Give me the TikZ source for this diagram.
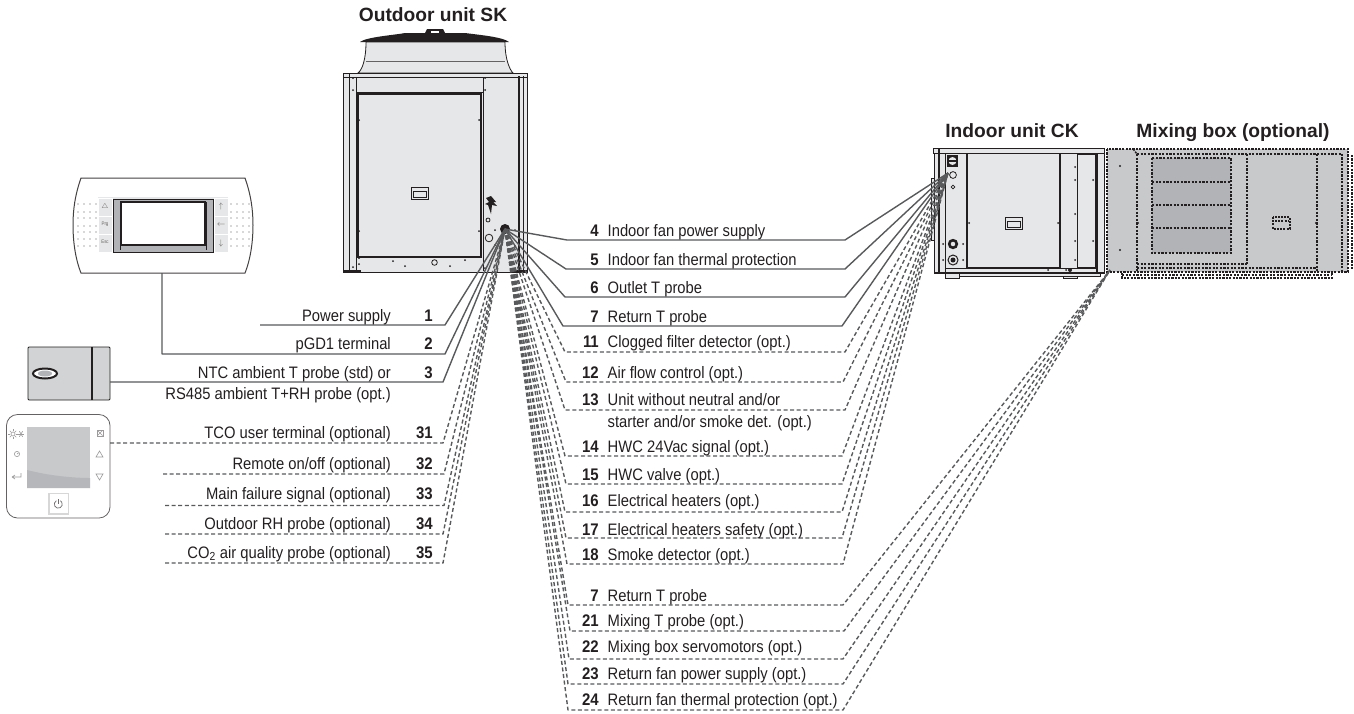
\documentclass[tikz,border=0pt]{standalone}
\usepackage{fontspec}
\setmainfont[FakeStretch=0.89]{Liberation Sans}
\newfontfamily\headfont{Liberation Sans}
\usetikzlibrary{calc}
\definecolor{wirec}{HTML}{58595B}
\definecolor{inkc}{HTML}{231F20}
\definecolor{panelc}{HTML}{E6E7E8}
\definecolor{mixc}{HTML}{C8C9CB}
\definecolor{louvc}{HTML}{B1B3B6}
\definecolor{thermoc}{HTML}{D1D3D4}
\tikzset{
  wire/.style={draw=wirec,line width=1.4pt,line join=round},
  dwire/.style={wire,dash pattern=on 4pt off 2.6pt},
  lab/.style={inner sep=0pt,text=inkc,font=\fontsize{16.6}{17}\selectfont,anchor=base west},
  labr/.style={lab,anchor=base east},
  num/.style={inner sep=0pt,text=inkc,font=\fontsize{16.8}{17}\bfseries\selectfont,anchor=base east},
  head/.style={inner sep=0pt,text=inkc,font=\fontsize{19.2}{20}\headfont\bfseries\selectfont,anchor=base},
  ol/.style={draw=inkc,line width=.8pt},
  thick1/.style={draw=inkc,line width=2.2pt},
  mixd/.style={draw=inkc,line width=2.4pt,dash pattern=on 2.2pt off 1.4pt},
  mixe/.style={draw=inkc,line width=1.4pt,dash pattern=on 2.2pt off 1.2pt},
  btn/.style={draw=white,line width=.7pt,fill=panelc},
  tcoi/.style={draw=inkc!45,line width=.6pt},
}
\begin{document}
\begin{tikzpicture}[x=1pt,y=-1pt]
\useasboundingbox (0,0) rectangle (1354,713);
% ---- outdoor unit
\fill[inkc] (360,42) .. controls (366,37) and (395,35) .. (405,33) -- (425,33) -- (427,29) -- (443,29) -- (445,33) -- (465,33) .. controls (480,35) and (503,37) .. (509,42) -- cycle;
\fill[white] (431,31) rectangle (439,33);
\draw[ol,fill=panelc] (366,42) -- (505,42) .. controls (505,60) and (510,70) .. (513,73) -- (358,73) .. controls (362,70) and (366,60) .. (366,42) -- cycle;
\draw[draw=inkc!70,line width=.8pt] (366,61) -- (505,61);
\draw[inkc,line width=1.4pt] (433,33) -- (433,40);
\draw[ol,fill=panelc] (343,73) rectangle (527,272);
\draw[inkc,line width=1pt] (343,77.5) -- (527,77.5);
\draw[inkc,line width=1.6pt] (343,73.5) -- (527,73.5);
\draw[inkc,line width=.7pt] (349,74) -- (349,271);
\draw[inkc,line width=.7pt] (356,78) -- (356,271);
\draw[inkc,line width=.7pt] (356,92) -- (483,92);
\draw[inkc,line width=.7pt] (483,78) -- (483,271);
\draw[inkc,line width=2.2pt] (519,76) -- (519,272);
\draw[inkc,line width=.7pt] (523,76) -- (523,272);
\draw[thick1] (358,94) rectangle (481,257);
\draw[inkc,line width=2.2pt] (343,271.5) -- (361,271.5);
\draw[inkc,line width=2.2pt] (512,271.5) -- (527,271.5);
\foreach \p in {(353,78),(353,90),(485,78),(485,90),(359,120),(479,120),(359,231),(479,231),(359,258),(359,264),(393,261),(405,266),(450,266),(465,260),(353,267),(485,268),(495,230),(515,230),(495,245),(515,246)}
  \fill[inkc] \p circle (1pt);
\draw[ol,line width=1pt,fill=panelc] (411,187) rectangle (428,199);
\draw[inkc,line width=.7pt] (413,191) rectangle (426,197);
\fill[inkc] (491,196) -- (496,202) -- (493,202) -- (497,206) -- (492,205) -- (491,214) -- (488,205) -- (485,204) -- (489,202) -- (486,198) -- cycle;
\draw[ol] (488,220) circle (2pt);
\draw[ol] (489,238) circle (3.8pt);
\draw[ol] (434.5,262.5) circle (2.8pt);
\fill[inkc] (505,229) circle (5pt);
\coordinate (hubO) at (505,229);
% ---- indoor unit
\draw[ol,fill=panelc] (931,178) rectangle (934,240);
\draw[ol,fill=panelc] (945,272) rectangle (959,278);
\draw[ol,fill=panelc] (1063,272) rectangle (1077,278);
\draw[ol,fill=panelc] (959,273) rectangle (1100,276);
\draw[ol,fill=panelc] (934,148) rectangle (1104,273);
\draw[inkc,line width=.8pt,fill=panelc] (933,148) rectangle (1104,153);
\draw[inkc,line width=1.3pt] (939,148) -- (939,273);
\draw[inkc,line width=.7pt] (945,153) -- (945,273);
\draw[inkc,line width=1.4pt] (934,272.5) -- (1104,272.5);
\draw[inkc,line width=.7pt] (945,268) -- (1097,268);
\draw[thick1] (967,153) -- (967,268) -- (1060,268) -- (1060,153);
\draw[inkc,line width=.7pt] (1077,154) rectangle (1095,267);
\draw[inkc,line width=1.1pt] (1097,153) -- (1097,273);
\fill[inkc] (947,155) rectangle (958,167);
\fill[panelc] (952.5,161) circle (4pt);
\fill[inkc] (948,160) rectangle (957,162);
\draw[ol] (953,175) circle (3.4pt);
\draw[ol] (953,187) circle (1.9pt);
\draw[inkc,line width=2.6pt] (953,244) circle (3.8pt);
\draw[inkc,line width=1pt] (953,260) circle (5pt);
\fill[inkc] (953,260) circle (2.5pt);
\foreach \p in {(943,244),(963,244),(943,260),(963,260),(969,223),(1058,223),(1075,167),(1075,180),(1075,214),(1075,241),(1075,260),(1093,180),(1093,241),(1048,270),(1066,270)}
  \fill[inkc] \p circle (1pt);
\fill[inkc] (1070,270) circle (2pt);
\draw[ol,line width=1pt,fill=panelc] (1005,217) rectangle (1022,229);
\draw[inkc,line width=.7pt] (1007,221) rectangle (1020,227);
% ---- mixing box
\fill[mixc] (1107,149) rectangle (1348,272);
\draw[mixe] (1122,273) -- (1122,278) -- (1332,278) -- (1332,273);
\draw[mixd] (1122,275) -- (1332,275);
\draw[mixe] (1107,149) -- (1107,272) -- (1348,272) -- (1348,149) -- cycle;
\draw[mixe] (1133,149) -- (1137,154);
\draw[mixd] (1137,154) -- (1342,154);
\draw[mixd] (1137,154) -- (1137,272);
\draw[mixd] (1247,154) -- (1247,264);
\draw[mixd] (1317,154) -- (1317,272);
\draw[mixe] (1342,154) -- (1342,272);
\draw[mixd] (1137,264) -- (1247,264);
\draw[mixd] (1137,268) -- (1317,268);
\draw[mixe] (1352,155) -- (1352,270);
\draw[mixd,fill=louvc] (1152,158) rectangle (1231,253);
\draw[mixd] (1152,182) -- (1231,182);
\draw[mixd] (1152,205) -- (1231,205);
\draw[mixd] (1152,228) -- (1231,228);
\draw[inkc,line width=1.2pt,dash pattern=on 2pt off 1.2pt] (1273,217) rectangle (1290,229);
\draw[inkc,line width=1.2pt,dash pattern=on 2pt off 1.2pt] (1275,221) -- (1288,221);
\foreach \p in {(1120,166),(1120,250),(1138,223),(1247,223),(1316,223)}
  \fill[inkc] \p circle (1.1pt);
\coordinate (hubI) at (948,173);
\coordinate (hubM) at (1110,270);
% ---- pGD1 terminal
\draw[draw=inkc!85,line width=1pt,fill=white] (81,178) .. controls (75,195) and (73,210) .. (73,225) .. controls (73,240) and (75,258) .. (81,273) -- (245,273) .. controls (251,258) and (253,240) .. (253,225) .. controls (253,210) and (251,195) .. (245,178) -- cycle;
\fill[panelc] (98,197) rectangle (228,253);
\draw[btn] (98,198) rectangle (112,216);
\draw[btn] (98,216) rectangle (112,234);
\draw[btn] (98,234) rectangle (112,252);
\draw[btn] (214,198) rectangle (228,216);
\draw[btn] (214,216) rectangle (228,234);
\draw[btn] (214,234) rectangle (228,252);
\draw[inkc,line width=.9pt,fill=louvc] (113,199) rectangle (213,252);
\draw[inkc,line width=1.3pt,fill=white] (121,202) rectangle (205,245);
\draw[inkc,line width=.6pt] (120,202) -- (120,250);
\draw[inkc,line width=.6pt] (206,202) -- (206,250);
\foreach \xx in {78,84,90,96,231,237,243,249}
  \foreach \yy in {204,212,218,226,232,239,246}
    \fill[inkc!75] (\xx,\yy) circle (.7pt);
\node[inner sep=0pt,text=inkc!70,font=\fontsize{7}{7}\selectfont] (kbell) at (105,207) {$\triangle$};
\node[inner sep=0pt,text=inkc!70,font=\fontsize{5}{5}\selectfont] (kprg) at (105,224) {Prg};
\node[inner sep=0pt,text=inkc!70,font=\fontsize{5}{5}\selectfont] (kesc) at (105,242) {Esc};
\node[inner sep=0pt,text=inkc!70,font=\fontsize{8}{8}\selectfont] (kup) at (221,206) {$\uparrow$};
\node[inner sep=0pt,text=inkc!70,font=\fontsize{8}{8}\selectfont] (kent) at (221,225) {$\leftarrow$};
\node[inner sep=0pt,text=inkc!70,font=\fontsize{8}{8}\selectfont] (kdown) at (221,243) {$\downarrow$};
\coordinate (termB) at (162,273);
% ---- thermostat box
\draw[inkc,line width=.9pt,fill=thermoc,rounded corners=1pt] (28,347) rectangle (110,400);
\draw[inkc,line width=1.6pt] (92,347) -- (92,400);
\draw[inkc,line width=2pt,fill=white] (45,373.5) ellipse (12pt and 5pt);
\fill[louvc] (45,373.5) ellipse (7pt and 3pt);
\coordinate (thermoE) at (110,382);
% ---- TCO terminal
\draw[draw=inkc!70,line width=.8pt,fill=white,rounded corners=11pt] (6.5,414.5) rectangle (110,518);
\fill[mixc] (27,427) rectangle (90,488);
\fill[louvc!80!mixc] (27,470) .. controls (50,476) and (75,478) .. (90,478) -- (90,488) -- (27,488) -- cycle;
\draw[draw=inkc!18,line width=1.4pt,fill=white] (49,493.5) rectangle (68.5,514);
\draw[draw=inkc!65,line width=.7pt] (56.3,500.7) arc (120:420:4pt);
\draw[draw=inkc!65,line width=.7pt] (58.3,499) -- (58.3,503.5);
% icons left
\draw[tcoi] (13,434) circle (2pt);
\foreach \aa in {0,45,...,315}
  \draw[tcoi] ($(13,434)+(\aa:2.6pt)$) -- ($(13,434)+(\aa:4.6pt)$);
\foreach \aa in {0,60,...,300}
  \draw[tcoi] (21,434) -- ++(\aa:3.2pt);
\draw[tcoi] (17,454) circle (2.6pt);
\draw[tcoi] (17,454) -- (18.5,453);
\draw[tcoi] (12,477) -- (21,477) -- (21,473) (12,477) -- (15,475) (12,477) -- (15,479);
% icons right
\foreach \aa in {45,135,225,315}
  \draw[tcoi] (100,433) -- ++(\aa:3.6pt);
\draw[tcoi] (97,430) rectangle (103,436);
\draw[tcoi] (96,457) -- (103,457) -- (99.5,451) -- cycle;
\draw[tcoi] (96,474) -- (103,474) -- (99.5,480) -- cycle;
\coordinate (tcoE) at (110,443);
% ---- headings
\node[head] (hO) at (433,21) {Outdoor unit SK};
\node[head] (hI) at (1012,137) {Indoor unit CK};
\node[head] (hM) at (1233,137) {Mixing box (optional)};
% ---- left connectors
\coordinate (L1s) at (260,325); \coordinate (L1k) at (445,325);
\coordinate (L2s) at (162,354); \coordinate (L2k) at (445,354);
\coordinate (L3k) at (443,382);
\coordinate (L31k) at (443,443);
\coordinate (L32s) at (163,474); \coordinate (L32k) at (444,474);
\coordinate (L33s) at (165,505.5); \coordinate (L33k) at (444,505.5);
\coordinate (L34s) at (165,534); \coordinate (L34k) at (443,534);
\coordinate (L35s) at (165,563); \coordinate (L35k) at (443,563);
\draw[wire] (L1s) -- (L1k) -- (hubO);
\draw[wire] (termB) -- (L2s) -- (L2k) -- (hubO);
\draw[wire] (thermoE) -- (L3k) -- (hubO);
\draw[dwire] (tcoE) -- (L31k) -- (hubO);
\draw[dwire] (L32s) -- (L32k) -- (hubO);
\draw[dwire] (L33s) -- (L33k) -- (hubO);
\draw[dwire] (L34s) -- (L34k) -- (hubO);
\draw[dwire] (L35s) -- (L35k) -- (hubO);
% ---- right connectors, outdoor to indoor
\foreach \n/\a/\b/\yy in {4/567/845/240,5/566/845/269,6/565/845/297,7/563/842/326}{
  \coordinate (R\n a) at (\a,\yy); \coordinate (R\n b) at (\b,\yy);
  \draw[wire] (hubO) -- (R\n a) -- (R\n b) -- (hubI);
}
\foreach \n/\a/\b/\yy in {11/565/845/352,12/566/843/382,13/565/845/410,14/565/842/456,15/566/842/484,16/565/842/512,17/566/842/538,18/567/843/564}{
  \coordinate (R\n a) at (\a,\yy); \coordinate (R\n b) at (\b,\yy);
  \draw[dwire] (hubO) -- (R\n a) -- (R\n b) -- (hubI);
}
% ---- right connectors, outdoor to mixing box
\foreach \n/\a/\b/\yy in {70/568/843/605,21/570/844/631,22/569/843/659,23/568/843/684,24/568/843/710}{
  \coordinate (M\n a) at (\a,\yy); \coordinate (M\n b) at (\b,\yy);
  \draw[dwire] (hubO) -- (M\n a) -- (M\n b) -- (hubM);
}
% ---- left labels
\node[labr] (t1) at (391,321) {Power supply};
\node[labr] (t2) at (391,349) {pGD1 terminal};
\node[labr] (t3) at (391,378) {NTC ambient T probe (std) or};
\node[labr] (t3b) at (391,399) {RS485 ambient T+RH probe (opt.)};
\node[labr] (t31) at (391,438) {TCO user terminal (optional)};
\node[labr] (t32) at (391,469) {Remote on/off (optional)};
\node[labr] (t33) at (391,499) {Main failure signal (optional)};
\node[labr] (t34) at (391,529) {Outdoor RH probe (optional)};
\node[labr] (t35) at (391,558) {CO\textsubscript{2} air quality probe (optional)};
\foreach \n/\yy in {1/321,2/349,3/378,31/438,32/469,33/499,34/529,35/558}
  \node[num] (nl\n) at (433,\yy) {\n};
% ---- right labels
\foreach \nm/\n/\yy/\txt in {
 a/4/236.5/{Indoor fan power supply},
 b/5/265/{Indoor fan thermal protection},
 c/6/293/{Outlet T probe},
 d/7/322/{Return T probe},
 e/11/347/{Clogged filter detector (opt.)},
 f/12/378/{Air flow control (opt.)},
 h/14/452/{HWC 24Vac signal (opt.)},
 i/15/480/{HWC valve (opt.)},
 j/16/506/{Electrical heaters (opt.)},
 k/17/535/{Electrical heaters safety (opt.)},
 l/18/560/{Smoke detector (opt.)},
 m/7/601/{Return T probe},
 n/21/626/{Mixing T probe (opt.)},
 o/22/652/{Mixing box servomotors (opt.)},
 p/23/679/{Return fan power supply (opt.)},
 q/24/705/{Return fan thermal protection (opt.)}}{
  \node[num] (nr\nm) at (599,\yy) {\n};
  \node[lab] (tr\nm) at (607.5,\yy) {\txt};
}
\node[num] (nrg) at (599,405) {13};
\node[lab] (trg) at (607.5,405) {Unit without neutral and/or};
\node[lab] (trg2) at (607.5,427) {starter and/or smoke det. (opt.)};
\end{tikzpicture}
\end{document}
